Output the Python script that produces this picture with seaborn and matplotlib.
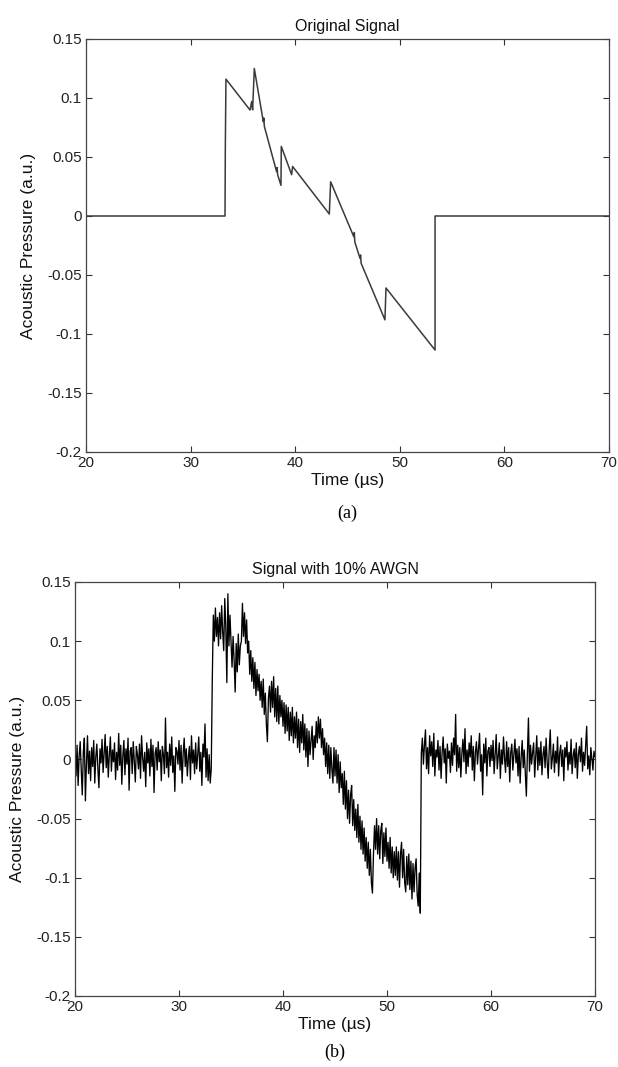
import numpy as np
import pandas as pd
import matplotlib
matplotlib.use("Agg")
import matplotlib.pyplot as plt
import seaborn as sns

# ---------------- data ----------------
# (a) original signal: time (us) and pressure (a.u.)
time_a = [20.0, 33.29, 33.32, 33.38, 35.68, 35.84, 35.93, 36.09, 36.95, 37.00, 37.05,
          38.22, 38.27, 38.32, 38.64, 38.67, 39.66, 39.75, 43.26, 43.39, 45.60, 45.65, 45.70,
          46.20, 46.25, 46.30, 48.58, 48.68, 53.37, 53.37, 70.0]
pressure_a = [0.0, 0.0, 0.058, 0.116, 0.0898, 0.097, 0.090, 0.125, 0.080, 0.083, 0.076,
              0.0376, 0.041, 0.035, 0.026, 0.059, 0.035, 0.042, 0.0017, 0.029, -0.0175, -0.014, -0.022,
              -0.036, -0.033, -0.040, -0.088, -0.061, -0.1136, 0.0, 0.0]

# (b) signal with 10% AWGN, read in thousandths of a.u., three segments
pre_start, pre_end = 20.0, 33.1
pre_milli = [
    8, -14, 12, -22, 3, 15, -9, -30, 6, 18,
    -35, -4, 20, -12, 7, -18, 10, -6, 16, -20,
    2, 13, -8, -24, 9, -3, 17, -11, 5, 21,
    -7, 11, -15, 4, 19, -10, 8, -2, 14, -17,
    6, -9, 22, -5, 12, -21, 3, 16, -13, 9,
    -4, 18, -26, 7, 10, -12, 15, -1, -19, 11,
    4, -8, 13, -16, 20, 2, -10, 6, -23, 14,
    -3, 9, -14, 17, -6, 12, -28, 5, 10, -9,
    15, -2, 8, -18, 11, 4, -12, 35, -7, 6,
    -15, 13, -5, 19, -11, 3, -27, 10, 7, -4,
    16, -9, 12, -20, 5, 18, -6, 9, -14, 2,
    11, -17, 20, -3, 8, -12, 14, -8, 4, 19,
    -10, 6, -22, 13, 2, 30, -15, 9, -18, 4,
    -20, -8]
pulse_start, pulse_end = 33.2, 53.2
pulse_milli = [
    67, 122, 100, 128, 104, 120, 96, 124,
    102, 130, 108, 92, 136, 112, 65, 140, 96, 122,
    100, 78, 104, 84, 57, 98, 74, 106, 80, 96,
    100, 132, 104, 124, 98, 118, 90, 100, 72, 92,
    66, 86, 60, 82, 54, 76, 58, 72, 50, 66,
    44, 68, 38, 56, 30, 15, 52, 62, 40, 66,
    44, 70, 36, 60, 32, 62, 30, 54, 36, 50,
    28, 48, 22, 46, 24, 44, 16, 40, 20, 44,
    14, 36, 18, 40, 10, 34, 6, 32, 14, 38,
    8, 30, 2, 26, -6, 24, 4, 16, 28, 0,
    20, 10, 32, 14, 36, 18, 34, 10, 26, 4,
    18, -6, 14, -12, 12, -16, 10, -8, -20, 10,
    -14, 8, -20, 4, -28, -2, -24, -12, -38, -10,
    -42, -18, -50, -26, -54, -30, -22, -56, -34, -60,
    -42, -66, -38, -70, -48, -76, -52, -80, -58, -86,
    -66, -92, -70, -98, -76, -104, -113, -80, -56, -76,
    -50, -80, -56, -84, -60, -54, -88, -62, -82, -58,
    -86, -70, -92, -66, -96, -74, -100, -78, -98, -74,
    -102, -78, -108, -80, -70, -100, -76, -104, -112, -82,
    -106, -80, -110, -86, -118, -88, -112, -92, -84, -114,
    -124, -96, -130]
post_start, post_end = 53.3, 70.0
post_milli = [
    5, 18, -4, 12, 25, -8, 10,
    -12, 20, 3, 15, -6, 22, -14, 8, 2, 16,
    -9, 11, -16, 6, 19, -3, 9, -20, 13, 1,
    7, -11, 14, -5, 18, 4, 38, -10, 12, -7,
    10, -15, 5, 17, -2, 26, -12, 8, -6, 14,
    2, 20, -9, 11, -18, 6, 15, -4, 9, 22,
    -10, 4, -30, 13, -3, 18, -14, 7, 10, -6,
    12, -1, 16, -12, 5, 21, -8, 3, 14, -16,
    8, -4, 19, 1, -11, 15, -6, 10, -19, 6,
    13, -9, 4, 17, -3, 9, -14, 11, -20, 2,
    16, -7, 8, -12, -31, 5, 35, -10, 12, -4,
    6, 14, -15, 3, 20, -9, 10, -5, 15, -13,
    4, 11, -7, 18, -2, -16, 9, 25, -8, 1,
    13, -11, 7, -3, 19, -14, 5, 12, -6, 8,
    -18, 10, 2, 15, -9, 6, -4, 17, -12, 3,
    9, -7, 14, -16, 4, 11, -2, 18, -10, 6,
    -5, 12, 28, -8, 3, -13, 10, 1, -9, 7,
    2]

x_ticks = [20, 30, 40, 50, 60, 70]
y_ticks = [-0.2, -0.15, -0.1, -0.05, 0, 0.05, 0.1, 0.15]
y_tick_labels = ["-0.2", "-0.15", "-0.1", "-0.05", "0", "0.05", "0.1", "0.15"]

# ---------------- build frames ----------------
df_a = pd.DataFrame({"t": time_a, "p": pressure_a})
segs = [(pre_start, pre_end, pre_milli), (pulse_start, pulse_end, pulse_milli),
        (post_start, post_end, post_milli)]
tb, pb = [], []
for s, e, vals in segs:
    tb.extend(np.linspace(s, e, len(vals)))
    pb.extend(np.asarray(vals) / 1000.0)
df_b = pd.DataFrame({"t": tb, "p": pb})

# ---------------- style ----------------
sns.set_theme(style="white")
plt.rcParams["font.family"] = ["Liberation Sans", "DejaVu Sans"]
plt.rcParams["axes.unicode_minus"] = False
plt.rcParams["xtick.direction"] = "in"
plt.rcParams["ytick.direction"] = "in"

W, H = 618, 1067
fig = plt.figure(figsize=(W / 100, H / 100), dpi=100)
fig.patch.set_facecolor("white")

def fa(l, t, r, b):
    return [l / W, 1 - b / H, (r - l) / W, (b - t) / H]

ax1 = fig.add_axes(fa(86, 39, 609, 452))
ax2 = fig.add_axes(fa(75, 582, 595, 996))

sns.lineplot(data=df_a, x="t", y="p", ax=ax1, estimator=None, sort=False,
             color="#3a3a3a", linewidth=1.1)
sns.lineplot(data=df_b, x="t", y="p", ax=ax2, estimator=None, sort=False,
             color="black", linewidth=0.95)

titles = ["Original Signal", "Signal with 10% AWGN"]
for ax, title in zip([ax1, ax2], titles):
    ax.set_xlim(20, 70)
    ax.set_ylim(-0.2, 0.15)
    ax.set_xticks(x_ticks)
    ax.set_xticklabels([str(v) for v in x_ticks])
    ax.set_yticks(y_ticks)
    ax.set_yticklabels(y_tick_labels)
    ax.tick_params(axis="both", which="major", direction="in", length=4,
                   width=0.8, color="#333333", labelsize=11, labelcolor="#222222",
                   top=True, right=True, bottom=True, left=True, pad=3)
    for sp in ax.spines.values():
        sp.set_visible(True)
        sp.set_color("#444444")
        sp.set_linewidth(0.9)
    ax.set_title(title, fontsize=11.5, color="#111111", pad=6)
    ax.set_xlabel("Time (\u00b5s)", fontsize=12.5, color="#111111", labelpad=2)
    ax.set_ylabel("Acoustic Pressure (a.u.)", fontsize=12.5, color="#111111", labelpad=8)
    ax.grid(False)
    ax.set_facecolor("white")

fig.text(347 / W, 1 - 513 / H, "(a)", ha="center", va="center", fontsize=13,
         family=["Liberation Serif", "DejaVu Serif"], color="black")
fig.text(335 / W, 1 - 1052 / H, "(b)", ha="center", va="center", fontsize=13,
         family=["Liberation Serif", "DejaVu Serif"], color="black")

fig.savefig("out.png", dpi=100, facecolor="white")
